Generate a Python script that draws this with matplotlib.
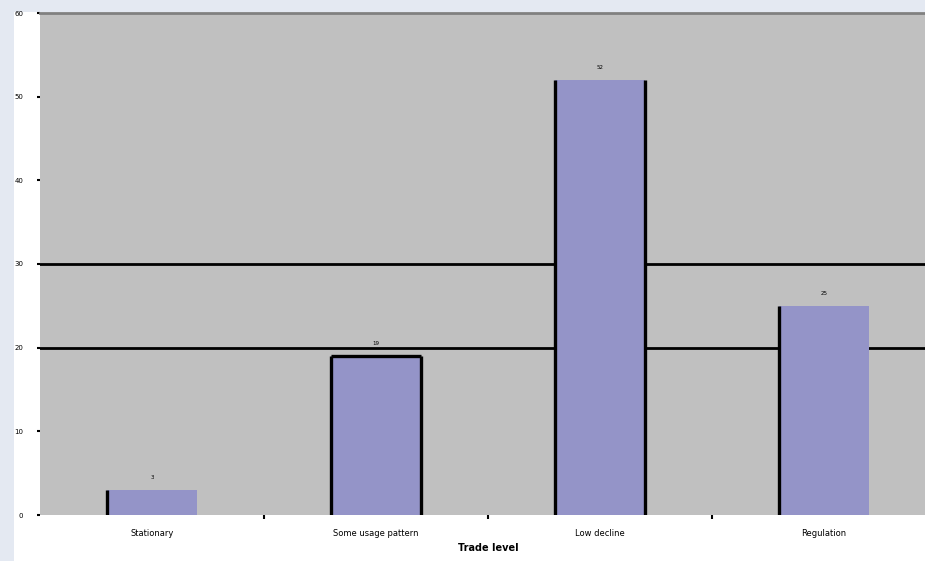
import numpy as np
import matplotlib.pyplot as plt
from matplotlib.patches import Rectangle

categories = ['Stationary', 'Some usage pattern', 'Low decline', 'Regulation']
values = [3, 19, 52, 25]
y_ticks = [0, 10, 20, 30, 40, 50, 60]
grid_levels = [20, 30]
x_title = 'Trade level'

fig = plt.figure(figsize=(9.25, 5.61), dpi=100)
fig.patch.set_facecolor('#E4E9F2')
# white panel behind the chart
fig.patches.append(Rectangle((14 / 925, 0), 1, 1 - 12 / 561, transform=fig.transFigure,
                             facecolor='white', edgecolor='none', zorder=-5))

# plot area runs a little past the right edge of the canvas
ax = fig.add_axes([40 / 925, 46 / 561, 896 / 925, 502 / 561])
ax.set_facecolor('#C0C0C0')

x = np.arange(len(categories))
bars = ax.bar(x, values, width=0.40, color='#9494C8', edgecolor='none', zorder=3)
for lvl in grid_levels:
    ax.axhline(lvl, color='black', linewidth=2, zorder=2)

# outline strokes: left edges everywhere, full frame on the middle bars
for i, b in enumerate(bars):
    x0, x1, h = b.get_x(), b.get_x() + b.get_width(), b.get_height()
    ax.vlines(x0, 0, h, color='black', linewidth=2.4, zorder=4)
    if i in (1, 2):
        ax.vlines(x1, 0, h, color='black', linewidth=2.4, zorder=4)
    if i == 1:
        ax.hlines(h, x0, x1, color='black', linewidth=2.4, zorder=4)

for xi, v in zip(x, values):
    ax.text(xi, v + 1.2, str(v), ha='center', va='bottom', fontsize=4, color='black')

ax.set_xlim(-0.5, len(categories) - 0.5)
ax.set_ylim(0, 60)
ax.set_yticks(y_ticks)
ax.set_yticklabels([str(t) for t in y_ticks], fontsize=5)
ax.set_xticks(x)
ax.set_xticklabels(categories, fontsize=6)
ax.set_xticks(x[:-1] + 0.5, minor=True)
ax.tick_params(axis='x', which='major', length=0, pad=10)
ax.tick_params(axis='x', which='minor', length=3, width=1.5, direction='out')
ax.tick_params(axis='y', length=2, width=1.5, pad=10)
ax.set_xlabel(x_title, fontsize=7, fontweight='bold', labelpad=4)

for s in ['left', 'right', 'bottom']:
    ax.spines[s].set_visible(False)
ax.spines['top'].set_color('#808080')
ax.spines['top'].set_linewidth(2)

fig.savefig('out.png', dpi=100)
